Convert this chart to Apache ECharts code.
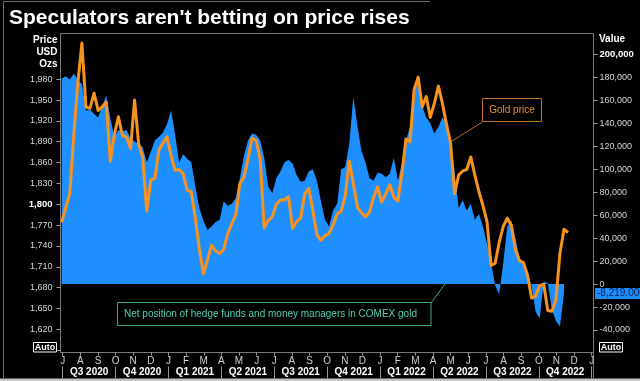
<!DOCTYPE html>
<html><head><meta charset="utf-8">
<script src="https://cdn.jsdelivr.net/npm/echarts@6/dist/echarts.min.js"></script>
<style>html,body{margin:0;padding:0;background:#000}#c{width:640px;height:381px}</style>
</head><body><div id="c"></div>
<script>
const chartTitle = "Speculators aren't betting on price rises";
const monthLabels = ['J','A','S','O','N','D','J','F','M','A','M','J','J','A','S','O','N','D','J','F','M','A','M','J','J','A','S','O','N','D','J'];
const quarterLabels = ['Q3 2020','Q4 2020','Q1 2021','Q2 2021','Q3 2021','Q4 2021','Q1 2022','Q2 2022','Q3 2022','Q4 2022'];
const leftAxisTitle = 'Price\nUSD\nOzs';
const rightAxisTitle = 'Value';
const goldLabel = 'Gold price';
const netLabel = 'Net position of hedge funds and money managers in COMEX gold';
// weekly observations, first one on Tuesday 30 June 2020
const firstWeek = [2020, 5, 30];
const axisStart = [2020, 5, 28];
const axisEnd = [2023, 0, 5];
// gold price, USD/oz
const goldPrice = [
 1774,1795,1815,1900,1975,2032,1940,1938,1960,1935,
 1940,1947,1862,1900,1926,1899,1897,1880,1950,1887,
 1868,1790,1835,1837,1878,1888,1897,1870,1849,1850,
 1844,1820,1818,1780,1735,1700,1720,1741,1733,1729,
 1735,1758,1772,1785,1830,1839,1865,1895,1892,1865,
 1766,1777,1782,1800,1806,1806,1811,1765,1775,1780,
 1815,1823,1791,1756,1748,1755,1758,1770,1786,1790,
 1812,1862,1830,1796,1788,1782,1789,1810,1825,1803,
 1815,1828,1810,1805,1845,1894,1890,1965,1983,1940,
 1955,1925,1945,1970,1945,1915,1888,1815,1842,1848,
 1850,1868,1842,1818,1798,1775,1712,1715,1745,1768,
 1780,1770,1735,1719,1716,1698,1665,1668,1683,1685,
 1647,1646,1662,1729,1764,1759.44
];
// net position of hedge funds and money managers, contracts
const netPosition = [
 179000,181000,178000,183000,178000,174000,151000,152000,148000,145000,
 155000,164000,145000,128000,134000,133000,134000,127000,124000,122000,
 119000,106000,115000,125000,128000,132000,139000,151000,130000,106000,
 113000,109000,106000,85000,66000,55000,47000,50000,54000,56000,
 72000,68000,70000,75000,92000,112000,125000,131000,130000,125000,
 110000,85000,79000,92000,98000,106000,108000,105000,95000,89000,
 90000,98000,100000,90000,72000,56000,50000,64000,70000,100000,
 102000,122000,163000,138000,116000,106000,92000,90000,97000,96000,
 93000,96000,110000,90000,105000,125000,137000,167000,176000,155000,
 145000,140000,131000,137000,145000,140000,124000,98000,66000,73000,
 64000,70000,56000,61000,50000,35000,18000,-1000,-9000,18000,
 50000,55000,40000,23000,18000,10000,-2000,-24000,-30000,2000,
 1000,-22000,-32000,-37000,-8219
];
const priceAxis = {min: 1590, max: 1980, step: 30, firstLabel: 1620, bold: 1800};
const valueAxis = {min: -40000, max: 200000, step: 20000, bold: 200000};

const FONT = 'Liberation Sans';
const weekDates = goldPrice.map((_, i) => new Date(firstWeek[0], firstWeek[1], firstWeek[2] + 7 * i).getTime());
const tMin = new Date(...axisStart).getTime();
const tMax = new Date(...axisEnd).getTime();
const fmt = v => Number(v).toLocaleString('en-US');
const lastGold = goldPrice[goldPrice.length - 1];
const lastNet = netPosition[netPosition.length - 1];

const chart = echarts.init(document.getElementById('c'), null, {renderer: 'canvas'});
const GL = 60.5, GR = 46.5;
const option = {
  backgroundColor: '#000',
  animation: false,
  title: {text: chartTitle, left: 9, top: 8, padding: 0,
    textStyle: {color: '#fff', fontSize: 21, fontWeight: 'bold', fontFamily: FONT}},
  grid: [
    {left: GL, right: GR, top: 33.5, bottom: 28.5, show: true, borderColor: '#7a7a7a', borderWidth: 1, backgroundColor: 'transparent'},
    {left: GL, right: GR, top: 54.3, bottom: 51},
    {left: GL, right: GR, top: 79.2, bottom: 30.8},
    {left: 62.7, right: 48.3, top: 340, bottom: 28.5}
  ],
  xAxis: [
    {gridIndex: 0, type: 'value', show: false, min: 0, max: 1},
    {gridIndex: 1, type: 'time', show: false, min: tMin, max: tMax},
    {gridIndex: 2, type: 'time', show: false, min: tMin, max: tMax},
    {gridIndex: 3, type: 'category', data: monthLabels, boundaryGap: false, position: 'bottom',
      axisLine: {show: false}, axisTick: {show: true, length: 3, interval: 0, lineStyle: {color: '#9a9a9a'}},
      axisLabel: {interval: 0, margin: 4, color: '#d0d0d0', fontSize: 10, fontFamily: FONT}},
    {gridIndex: 3, type: 'category', data: quarterLabels, boundaryGap: true, position: 'bottom', offset: 14,
      axisLine: {show: false}, axisTick: {show: true, length: 12, interval: 0, lineStyle: {color: '#9a9a9a'}},
      axisLabel: {interval: 0, margin: 1, color: '#fff', fontSize: 10, fontWeight: 'bold', fontFamily: FONT}}
  ],
  yAxis: [
    {gridIndex: 0, type: 'value', show: false, min: 0, max: 1},
    {gridIndex: 1, type: 'value', position: 'right', min: valueAxis.min, max: valueAxis.max, interval: valueAxis.step,
      axisLine: {show: false}, splitLine: {show: false},
      axisTick: {show: true, length: 4, lineStyle: {color: '#a0a0a0'}},
      axisLabel: {margin: 6, color: '#d8d8d8', fontSize: 9, fontFamily: FONT,
        formatter: v => v === valueAxis.bold ? '{b|' + fmt(v) + '}' : fmt(v),
        rich: {b: {fontWeight: 'bold', color: '#fff', fontSize: 9.5, fontFamily: FONT}}}},
    {gridIndex: 2, type: 'value', position: 'left', min: priceAxis.min, max: priceAxis.max, interval: priceAxis.step,
      axisLine: {show: false}, splitLine: {show: false},
      axisTick: {show: true, length: 4, lineStyle: {color: '#a0a0a0'}},
      axisLabel: {margin: 8, color: '#d8d8d8', fontSize: 9, fontFamily: FONT,
        formatter: v => v < priceAxis.firstLabel ? '' : (v === priceAxis.bold ? '{b|' + fmt(v) + '}' : fmt(v)),
        rich: {b: {fontWeight: 'bold', color: '#fff', fontSize: 9.5, fontFamily: FONT}}}},
    {gridIndex: 3, type: 'value', show: false}
  ],
  series: [
    {type: 'line', name: 'Net position', xAxisIndex: 1, yAxisIndex: 1, clip: false,
      data: netPosition.map((v, i) => [weekDates[i], v]),
      showSymbol: false, lineStyle: {width: 0}, itemStyle: {color: '#1e8fff'},
      areaStyle: {color: '#1e8fff', opacity: 1}, z: 2},
    {type: 'scatter', name: 'Net last', xAxisIndex: 1, yAxisIndex: 1, clip: false, silent: true,
      data: [[tMax, lastNet]], symbol: 'rect', symbolSize: 1, itemStyle: {color: 'rgba(0,0,0,0)'}, z: 6,
      label: {show: true, position: 'right', distance: 1, opacity: 1,
        formatter: lastNet.toLocaleString('en-US', {minimumFractionDigits: 3}),
        backgroundColor: '#1e8fff', color: '#0a1c50', fontSize: 10, fontFamily: FONT, padding: [1, 8, 0, 2]}},
    {type: 'line', name: 'Gold price', xAxisIndex: 2, yAxisIndex: 2, clip: false,
      data: goldPrice.map((v, i) => [weekDates[i], v]),
      showSymbol: false, lineStyle: {width: 3, color: '#f7931e', join: 'round'}, itemStyle: {color: '#f7931e'}, z: 3,
      markLine: {symbol: 'none', silent: true, animation: false, lineStyle: {opacity: 0},
        label: {position: 'start', distance: 0, formatter: lastGold.toLocaleString('en-US', {minimumFractionDigits: 4}),
          backgroundColor: '#f7931e', color: '#000', fontSize: 10, fontWeight: 'bold', fontFamily: FONT, padding: [1, 3, 0, 4]},
        data: [{yAxis: lastGold}]}}
  ],
  graphic: [
    {type: 'line', shape: {x1: 3.5, y1: 1.5, x2: 3.5, y2: 378}, style: {stroke: '#6a6a6a', lineWidth: 1}, silent: true},
    {type: 'line', shape: {x1: 3.5, y1: 1.5, x2: 430, y2: 1.5}, style: {stroke: '#6a6a6a', lineWidth: 1}, silent: true},
    {type: 'rect', shape: {x: 0, y: 378.5, width: 640, height: 3}, style: {fill: '#c4c4c4'}, silent: true},
    {type: 'line', shape: {x1: 593.5, y1: 352.5, x2: 593.5, y2: 379}, style: {stroke: '#7a7a7a', lineWidth: 1}, silent: true},
    {type: 'text', x: 57.5, y: 34, style: {text: leftAxisTitle, align: 'right', verticalAlign: 'top', fill: '#fff',
      font: 'bold 10px "' + FONT + '"', lineHeight: 12}, silent: true},
    {type: 'text', x: 599, y: 34.5, style: {text: rightAxisTitle, align: 'left', verticalAlign: 'top', fill: '#fff',
      font: 'bold 10px "' + FONT + '"'}, silent: true},
    {type: 'rect', shape: {x: 33.5, y: 342.5, width: 23, height: 9.5}, style: {fill: 'none', stroke: '#fff', lineWidth: 1}, silent: true},
    {type: 'text', x: 45, y: 347.5, style: {text: 'Auto', align: 'center', verticalAlign: 'middle', fill: '#fff',
      font: 'bold 9px "' + FONT + '"'}, silent: true},
    {type: 'rect', shape: {x: 599.5, y: 342.5, width: 23, height: 9.5}, style: {fill: 'none', stroke: '#fff', lineWidth: 1}, silent: true},
    {type: 'text', x: 611, y: 347.5, style: {text: 'Auto', align: 'center', verticalAlign: 'middle', fill: '#fff',
      font: 'bold 9px "' + FONT + '"'}, silent: true},
    {type: 'line', shape: {x1: 482.5, y1: 122, x2: 452, y2: 141}, style: {stroke: '#b36b26', lineWidth: 1}, silent: true, z: 10},
    {type: 'rect', shape: {x: 482.5, y: 98.5, width: 59, height: 23}, style: {fill: '#000', stroke: '#c07428', lineWidth: 1}, silent: true, z: 10},
    {type: 'text', x: 512, y: 110.5, style: {text: goldLabel, align: 'center', verticalAlign: 'middle', fill: '#e8913a',
      font: '10px "' + FONT + '"'}, silent: true, z: 11},
    {type: 'line', shape: {x1: 431, y1: 303, x2: 446.5, y2: 282}, style: {stroke: '#3aa88c', lineWidth: 1}, silent: true, z: 10},
    {type: 'rect', shape: {x: 117.5, y: 302.5, width: 313.5, height: 23}, style: {fill: '#000', stroke: '#3aa88c', lineWidth: 1}, silent: true, z: 10},
    {type: 'text', x: 124, y: 314.5, style: {text: netLabel, align: 'left', verticalAlign: 'middle', fill: '#4fd0b0',
      font: '10px "' + FONT + '"'}, silent: true, z: 11}
  ]
};
chart.setOption(option);
</script></body></html>
